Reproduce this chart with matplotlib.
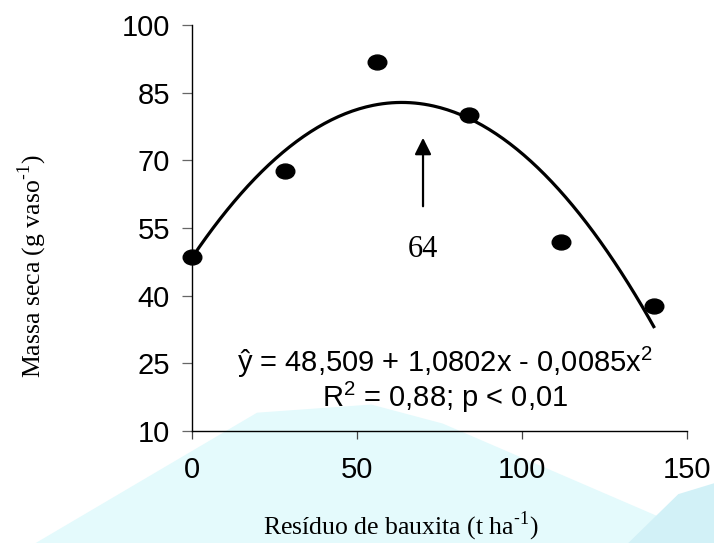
import numpy as np
import matplotlib
matplotlib.use("Agg")
import matplotlib.pyplot as plt
from matplotlib.markers import MarkerStyle
from matplotlib.transforms import Affine2D
from matplotlib.patches import Polygon

# observed dry mass per dose of bauxite residue
doses = [0, 28, 56, 84, 112, 140]
dry_mass = [48.6, 67.6, 91.7, 80.0, 51.9, 37.7]

# fitted quadratic shown in the chart: y = b0 + b1*x + b2*x^2
coefs = [48.509, 1.0802, -0.0085]
fit_range = [0, 140]

optimum_dose = 64
x_ticks = [0, 50, 100, 150]
y_ticks = [10, 25, 40, 55, 70, 85, 100]

sans = ['Liberation Sans', 'DejaVu Sans']
serif = ['Liberation Serif', 'DejaVu Serif']

plt.rcParams['mathtext.fontset'] = 'custom'
plt.rcParams['mathtext.rm'] = 'Liberation Sans'
plt.rcParams['mathtext.it'] = 'Liberation Sans'

fig = plt.figure(figsize=(7.14, 5.43), dpi=100)

# faint cyan watermark behind the plot
wm1 = Polygon([(0.05, 0.0), (0.36, 0.24), (0.52, 0.255), (0.62, 0.22),
               (0.92, 0.05), (0.92, 0.0)],
              closed=True, transform=fig.transFigure, facecolor='#e4fafc',
              edgecolor='none', zorder=-2)
wm2 = Polygon([(0.88, 0.0), (0.95, 0.09), (1.0, 0.11), (1.0, 0.0)],
              closed=True, transform=fig.transFigure, facecolor='#d2f1f7',
              edgecolor='none', zorder=-2)
fig.patches.extend([wm1, wm2])

ax = fig.add_axes([0.2693, 0.2063, 0.6925, 0.7477])
ax.set_facecolor('none')

xs = np.linspace(fit_range[0], fit_range[1], 200)
ys = coefs[0] + coefs[1] * xs + coefs[2] * xs ** 2
ax.plot(xs, ys, color='black', lw=2.3, zorder=3, clip_on=False)

dot = MarkerStyle('o', transform=Affine2D().scale(1.25, 1.0))
ax.scatter(doses, dry_mass, s=115, marker=dot, color='black', zorder=4, clip_on=False)

ax.annotate('', xy=(optimum_dose + 6, 75.6), xytext=(optimum_dose + 6, 59.2),
            arrowprops=dict(arrowstyle='-|>,head_length=1.0,head_width=0.5',
                            color='black', lw=1.6))
ax.text(optimum_dose + 6, 50.3, str(optimum_dose), family=serif, fontsize=22,
        ha='center', va='center')

ax.text(76.6, 25.2, r'ŷ = 48,509 + 1,0802x - 0,0085x$^{2}$', family=sans,
        fontsize=21, ha='center', va='center')
ax.text(76.6, 17.4, r'R$^{2}$ = 0,88; p < 0,01', family=sans,
        fontsize=21, ha='center', va='center')

ax.set_xlim(0, 150)
ax.set_ylim(10, 100)
ax.set_xticks(x_ticks)
ax.set_yticks(y_ticks)
ax.spines['top'].set_visible(False)
ax.spines['right'].set_visible(False)
for side in ['left', 'bottom']:
    ax.spines[side].set_linewidth(1.0)
ax.tick_params(axis='x', length=6, width=0.9, pad=12, labelsize=21, color='#444444')
ax.tick_params(axis='y', length=7, width=0.9, pad=9, labelsize=21, color='#666666')
for lab in ax.get_xticklabels() + ax.get_yticklabels():
    lab.set_family(sans)

fig.text(0.045, 0.51, r'Massa seca (g vaso$^{\mathregular{\text{-}1}}$)', family=serif,
         fontsize=18.5, rotation=90, ha='center', va='center')
fig.text(0.562, 0.031, r'Resíduo de bauxita (t ha$^{\mathregular{\text{-}1}}$)', family=serif,
         fontsize=18.5, ha='center', va='center')

fig.savefig('out.png', dpi=100)
